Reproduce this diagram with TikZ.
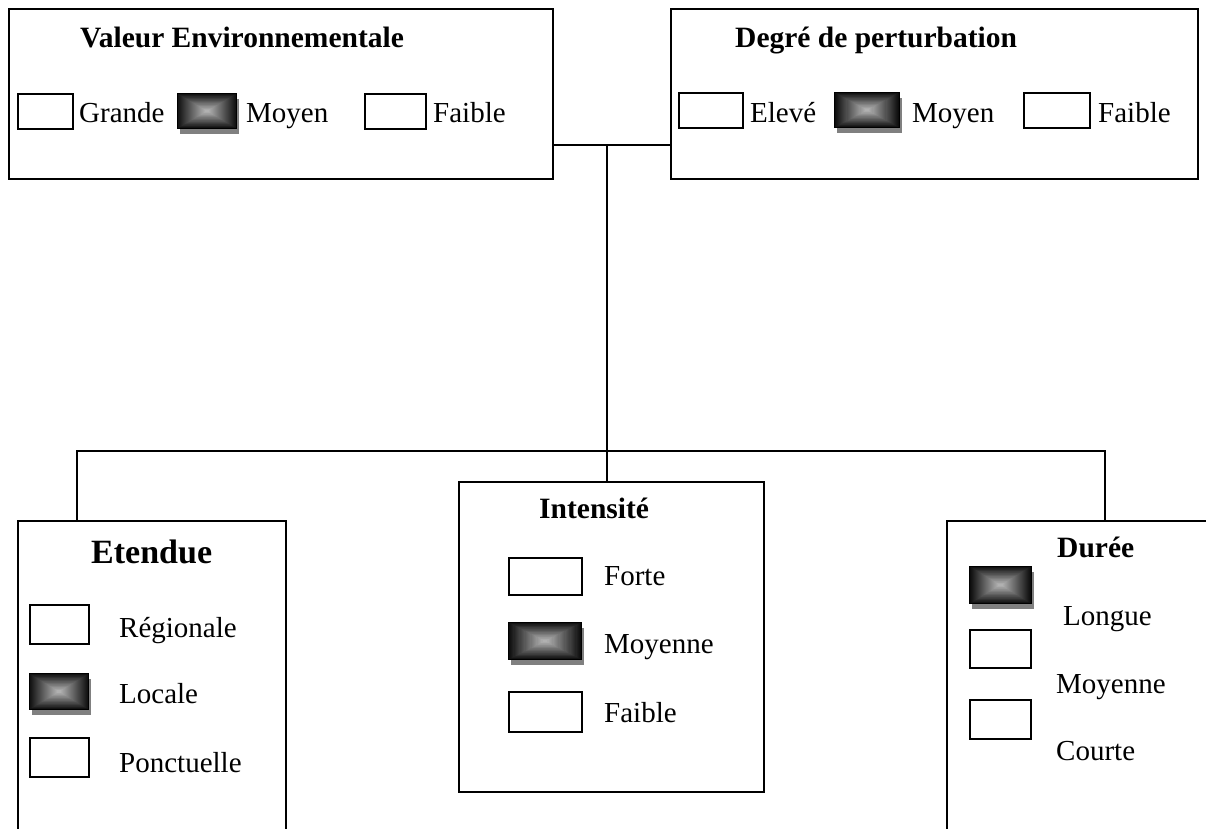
\documentclass[tikz,border=0pt]{standalone}
\usepackage{fontspec}
\setmainfont{Liberation Serif}
\usetikzlibrary{calc,shadows}

\tikzset{
  groupbox/.style={draw, line width=1.7pt, inner sep=0pt, anchor=north west},
  wire/.style={draw, line width=1.4pt},
  optbox/.style={draw, line width=1.8pt, inner sep=0pt, anchor=north west},
  emptybox/.style={optbox, fill=white},
  % ticked option: rectangular gradient from black rim to light grey centre
  markbox/.style={optbox, line width=1pt, fill=black,
    drop shadow={shadow xshift=2.5pt, shadow yshift=-5pt, fill=black!50, opacity=1},
    path picture={
      \foreach \i in {0,...,28}{
        \pgfmathsetmacro\lev{95-2.3*\i}
        \fill[black!\lev]
          ($(path picture bounding box.south west)!\i/60!(path picture bounding box.north east)$)
          rectangle
          ($(path picture bounding box.north east)!\i/60!(path picture bounding box.south west)$);
      }
    }},
  lbl/.style={inner sep=0pt, anchor=base west, font=\fontsize{29}{34}\selectfont},
  ttl/.style={lbl, font=\fontsize{29.5}{34}\selectfont\bfseries},
  bigttl/.style={lbl, font=\fontsize{34}{40}\selectfont\bfseries}
}

\begin{document}
\begin{tikzpicture}[x=1pt, y=-1pt]
  \useasboundingbox (0,0) rectangle (1206,828);
  \clip (0,0) rectangle (1206,828);

  % group frames
  \node[groupbox, minimum width=544pt, minimum height=170pt] (val) at (8,8) {};
  \node[groupbox, minimum width=527pt, minimum height=170pt] (deg) at (670,8) {};
  \node[groupbox, minimum width=268pt, minimum height=340pt] (ete) at (17,520) {};
  \node[groupbox, minimum width=305pt, minimum height=310pt] (int) at (458,481) {};
  \node[groupbox, minimum width=300pt, minimum height=340pt] (dur) at (946,520) {};

  % connectors
  \coordinate (hub) at (607,145);
  \coordinate (busL) at (77,451);
  \coordinate (busR) at (1105,451);
  \draw[wire] (val.east |- hub) -- (deg.west |- hub);
  \draw[wire] (hub) -- (hub |- int.north);
  \draw[wire] (busL |- ete.north) -- (busL) -- (busR) -- (busR |- dur.north);

  % Valeur Environnementale
  \node[ttl] (valT) at (80,47) {Valeur Environnementale};
  \node[emptybox, minimum width=55pt, minimum height=35pt] (v1) at (17,93) {};
  \node[lbl] (v1t) at (79,122) {Grande};
  \node[markbox, minimum width=59pt, minimum height=35pt] (v2) at (177,93) {};
  \node[lbl] (v2t) at (246,122) {Moyen};
  \node[emptybox, minimum width=61pt, minimum height=35pt] (v3) at (364,93) {};
  \node[lbl] (v3t) at (433,122) {Faible};

  % Degre de perturbation
  \node[ttl] (degT) at (735,47) {Degré de perturbation};
  \node[emptybox, minimum width=64pt, minimum height=35pt] (d1) at (678,92) {};
  \node[lbl] (d1t) at (750,122) {Elevé};
  \node[markbox, minimum width=65pt, minimum height=35pt] (d2) at (834,92) {};
  \node[lbl] (d2t) at (912,122) {Moyen};
  \node[emptybox, minimum width=66pt, minimum height=35pt] (d3) at (1023,92) {};
  \node[lbl] (d3t) at (1098,122) {Faible};

  % Etendue
  \node[bigttl] (eteT) at (91,563) {Etendue};
  \node[emptybox, minimum width=59pt, minimum height=39pt] (e1) at (29,604) {};
  \node[lbl] (e1t) at (119,637) {Régionale};
  \node[markbox, minimum width=59pt, minimum height=36pt] (e2) at (29,673) {};
  \node[lbl] (e2t) at (119,703) {Locale};
  \node[emptybox, minimum width=59pt, minimum height=39pt] (e3) at (29,737) {};
  \node[lbl] (e3t) at (119,772) {Ponctuelle};

  % Intensite
  \node[ttl] (intT) at (539,518) {Intensité};
  \node[emptybox, minimum width=73pt, minimum height=37pt] (i1) at (508,557) {};
  \node[lbl] (i1t) at (604,585) {Forte};
  \node[markbox, minimum width=73pt, minimum height=37pt] (i2) at (508,622) {};
  \node[lbl] (i2t) at (604,653) {Moyenne};
  \node[emptybox, minimum width=73pt, minimum height=40pt] (i3) at (508,691) {};
  \node[lbl] (i3t) at (604,722) {Faible};

  % Duree
  \node[ttl] (durT) at (1057,557) {Durée};
  \node[markbox, minimum width=62pt, minimum height=37pt] (u1) at (969,566) {};
  \node[lbl] (u1t) at (1063,625) {Longue};
  \node[emptybox, minimum width=61pt, minimum height=38pt] (u2) at (969,629) {};
  \node[lbl] (u2t) at (1056,693) {Moyenne};
  \node[emptybox, minimum width=61pt, minimum height=39pt] (u3) at (969,699) {};
  \node[lbl] (u3t) at (1056,760) {Courte};
\end{tikzpicture}
\end{document}
